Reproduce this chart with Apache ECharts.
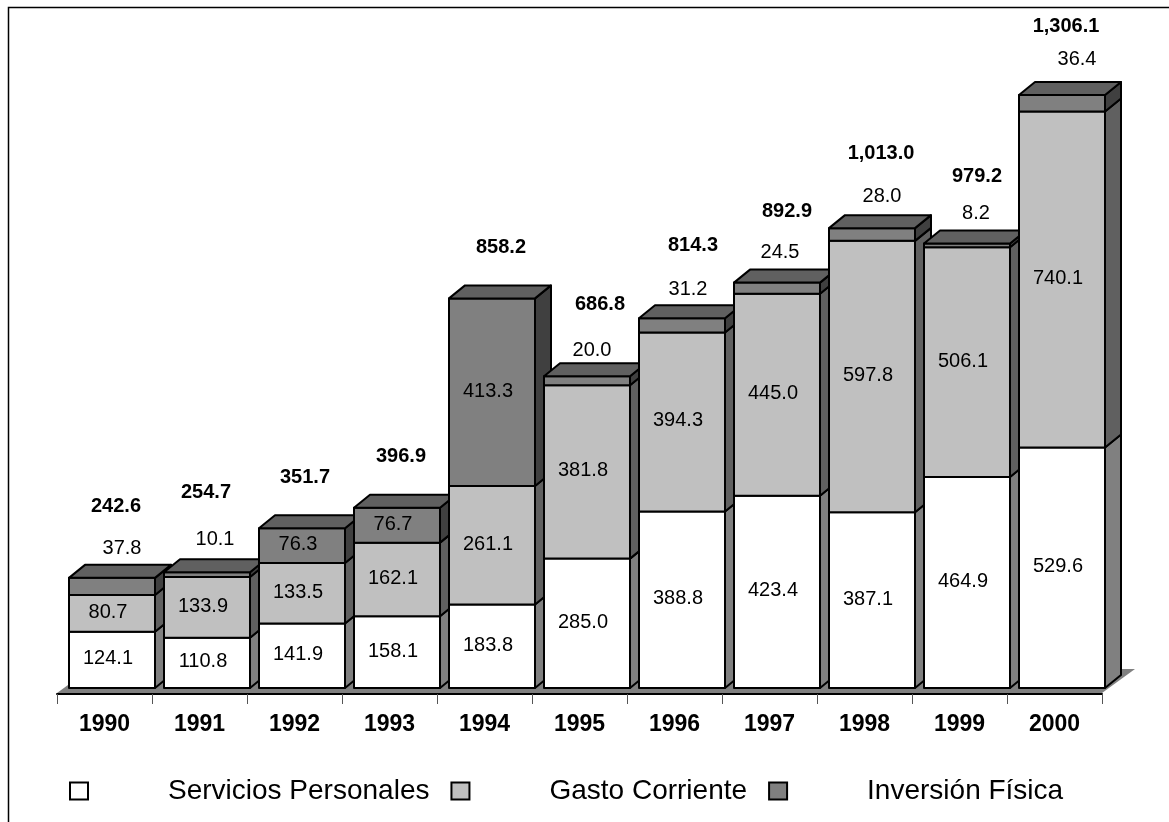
<!DOCTYPE html>
<html>
<head>
<meta charset="utf-8">
<style>
  html, body { margin: 0; padding: 0; background: #fff; }
  #chart { width: 1169px; height: 822px; }
</style>
<script src="https://cdn.jsdelivr.net/npm/echarts@6/dist/echarts.min.js"></script>
</head>
<body>
<div id="chart"></div>
<script>
var years = ["1990", "1991", "1992", "1993", "1994", "1995", "1996", "1997", "1998", "1999", "2000"];
var servicios = [124.1, 110.8, 141.9, 158.1, 183.8, 285.0, 388.8, 423.4, 387.1, 464.9, 529.6];
var gasto = [80.7, 133.9, 133.5, 162.1, 261.1, 381.8, 394.3, 445.0, 597.8, 506.1, 740.1];
var inversion = [37.8, 10.1, 76.3, 76.7, 413.3, 20.0, 31.2, 24.5, 28.0, 8.2, 36.4];
var totals = [242.6, 254.7, 351.7, 396.9, 858.2, 686.8, 814.3, 892.9, 1013.0, 979.2, 1306.1];

// hand placed labels in the original, offset from the front top centre of each bar
var totalDx = [4, -1, 3, 4, 9, 13, 11, 10, 9, 10, 4];
var totalDy = [-71, -80, -51, -51, -51, -72, -73, -71, -75, -67, -69];
var thinDx = [10, 8, 0, 0, 0, 5, 6, 3, 10, 9, 15];
var thinDy = [-29, -33, 0, 0, 0, -26, -29, -30, -32, -30, -36];

var FONT = '"Liberation Sans", Arial, sans-serif';
var BAR_W = 86, DEPTH_X = 16, DEPTH_Y = -13, BAR_SHIFT = 7.5;

function fmt(v) {
  return v.toLocaleString("en-US", { minimumFractionDigits: 1, maximumFractionDigits: 1 });
}

function face(points, fill, z2) {
  return {
    type: "polygon",
    z2: z2,
    shape: { points: points },
    style: { fill: fill, stroke: "#000", lineWidth: 2, lineJoin: "round" },
  };
}

function label(text, x, y, bold, z2) {
  return {
    type: "text",
    z2: z2,
    style: {
      text: text,
      x: x,
      y: y,
      fill: "#000",
      align: "center",
      verticalAlign: "middle",
      fontFamily: "Liberation Sans",
      fontSize: 20,
      fontWeight: bold ? "bold" : "normal",
    },
  };
}

// one stack segment: data is [categoryIndex, from, to, value]
function segment(level, front, side, top) {
  return function (params, api) {
    var i = api.value(0);
    var lo = api.coord([i, api.value(1)]);
    var hi = api.coord([i, api.value(2)]);
    var x0 = lo[0] + BAR_SHIFT - BAR_W / 2;
    var x1 = x0 + BAR_W;
    var yb = lo[1], yt = hi[1];
    var z = i * 100 + level * 10;
    var cx = (x0 + x1) / 2;
    var children = [
      face([[x1, yb], [x1 + DEPTH_X, yb + DEPTH_Y], [x1 + DEPTH_X, yt + DEPTH_Y], [x1, yt]], side, z),
      face([[x0, yb], [x1, yb], [x1, yt], [x0, yt]], front, z + 1),
    ];
    var value = api.value(3);
    if (top) {
      children.push(face([[x0, yt], [x0 + DEPTH_X, yt + DEPTH_Y], [x1 + DEPTH_X, yt + DEPTH_Y], [x1, yt]], top, z + 2));
      children.push(label(fmt(totals[i]), cx + totalDx[i], yt + totalDy[i], true, 90000));
    }
    if (top && value < 50) {
      children.push(label(fmt(value), cx + thinDx[i], yt + thinDy[i], false, 90000));
    } else {
      children.push(label(fmt(value), cx - 4, (yb + yt) / 2 - 1, false, 90000));
    }
    return { type: "group", children: children };
  };
}

var seriesData = [[], [], []];
years.forEach(function (y, i) {
  var a = servicios[i], b = a + gasto[i], c = b + inversion[i];
  seriesData[0].push([i, 0, a, servicios[i]]);
  seriesData[1].push([i, a, b, gasto[i]]);
  seriesData[2].push([i, b, c, inversion[i]]);
});

var names = ["Servicios Personales", "Gasto Corriente", "Inversión Física"];
var fronts = ["#ffffff", "#c0c0c0", "#808080"];
var sides = ["#808080", "#606060", "#404040"];

var option = {
  animation: false,
  backgroundColor: "#fff",
  textStyle: { fontFamily: FONT },
  grid: { left: 57, top: 52.4, width: 1045, height: 635.6 },
  legend: {
    left: 64,
    top: 772,
    icon: "rect",
    itemWidth: 18,
    itemHeight: 17,
    itemGap: 21,
    selectedMode: false,
    textStyle: { fontFamily: FONT, fontSize: 28, color: "#000", padding: [0, 0, 0, 75] },
    data: names,
  },
  xAxis: {
    type: "category",
    data: years,
    offset: 6,
    axisLine: { onZero: false, lineStyle: { color: "#000", width: 2 } },
    axisTick: { show: true, alignWithLabel: false, length: 10, lineStyle: { color: "#555", width: 1 } },
    axisLabel: { fontFamily: FONT, fontSize: 23, fontWeight: "bold", color: "#000", margin: 19 },
  },
  yAxis: { type: "value", min: 0, max: 1400, show: false },
  graphic: [
    {
      type: "polyline",
      silent: true,
      z: 0,
      shape: { points: [[8.5, 822], [8.5, 7.5], [1169, 7.5]] },
      style: { fill: null, stroke: "#000", lineWidth: 1.5 },
    },
    {
      type: "polygon",
      silent: true,
      z: 0,
      shape: { points: [[57, 693], [1102, 693], [1135, 669], [90, 669]] },
      style: { fill: "#808080", stroke: null },
    },
  ],
  series: [0, 1, 2].map(function (s) {
    return {
      name: names[s],
      type: "custom",
      itemStyle: { color: fronts[s], borderColor: "#000", borderWidth: 2 },
      renderItem: segment(s, fronts[s], sides[s], s === 2 ? "#606060" : null),
      data: seriesData[s],
    };
  }),
};

var chart = echarts.init(document.getElementById("chart"));
chart.setOption(option);
</script>
</body>
</html>
